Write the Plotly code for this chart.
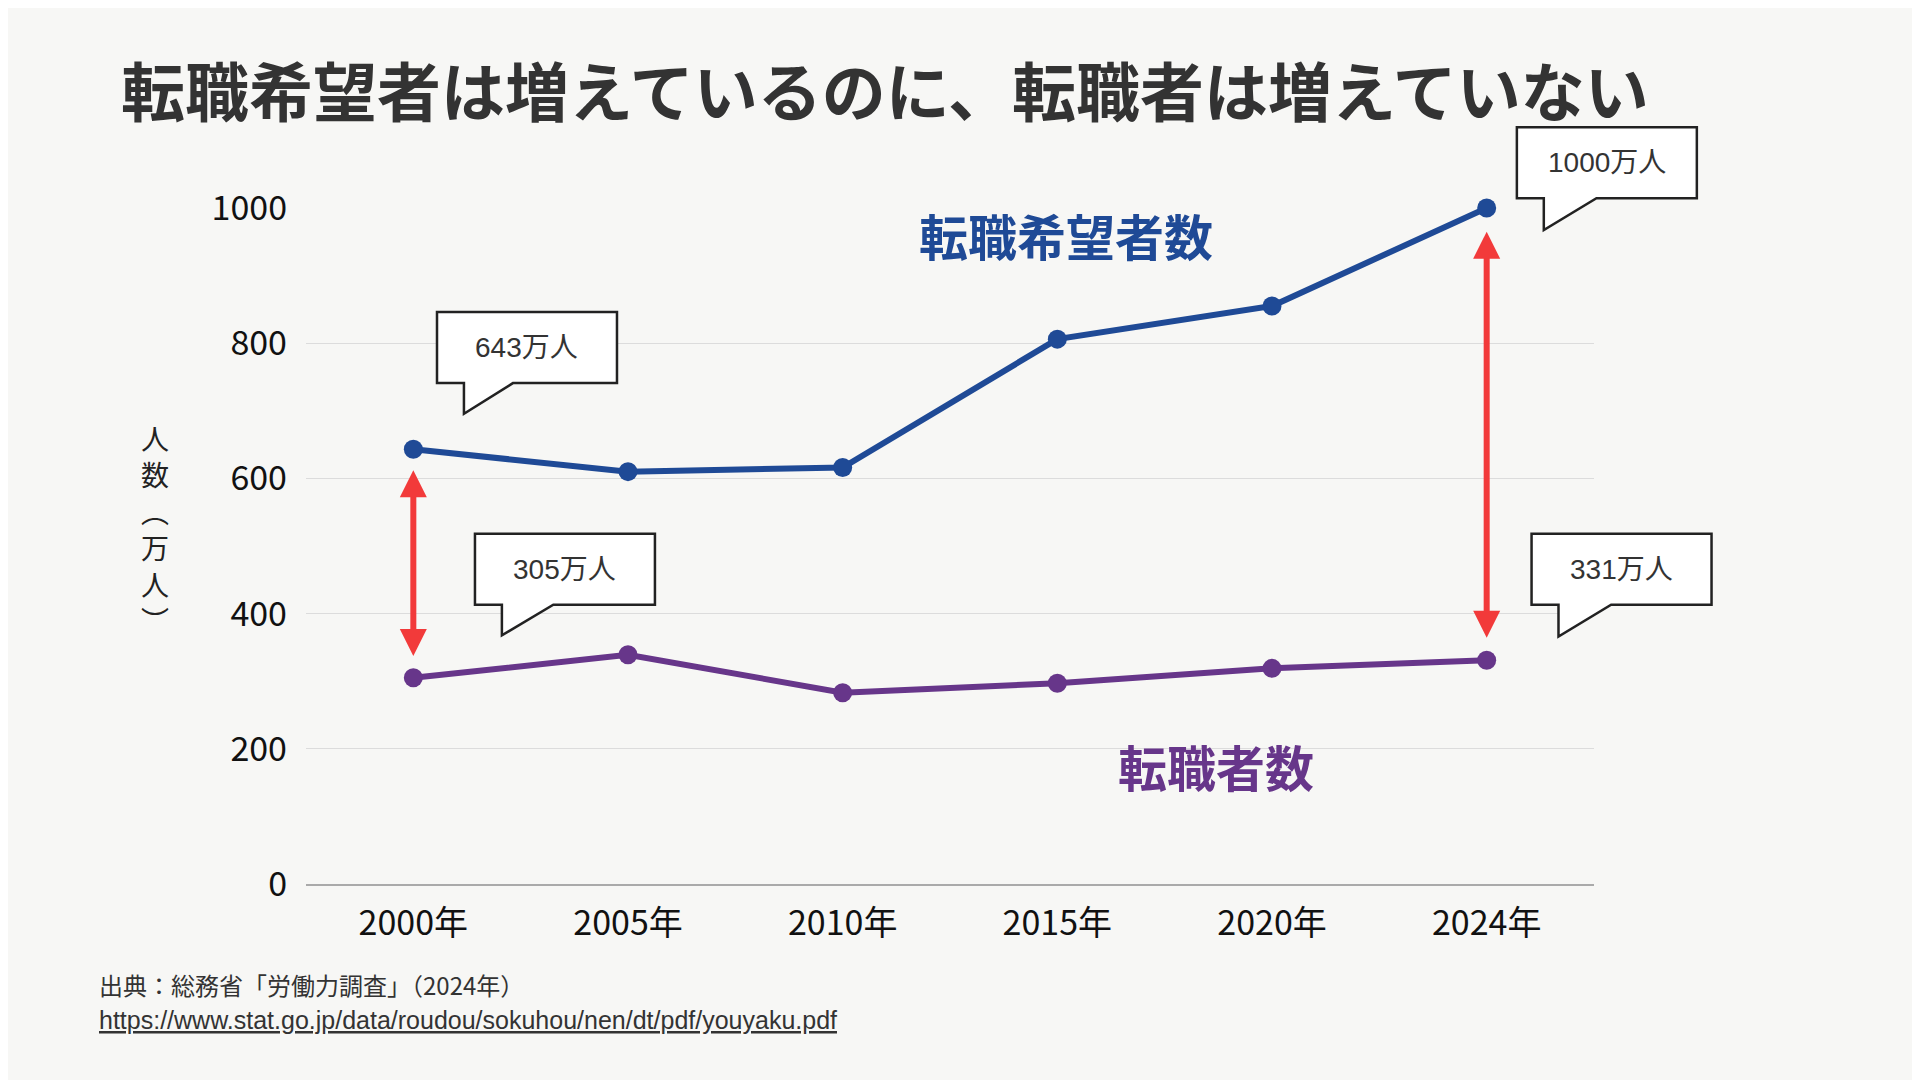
import plotly.graph_objects as go

years = ["2000年", "2005年", "2010年", "2015年", "2020年", "2024年"]
kibou = [643, 610, 616, 806, 855, 1000]
tenshoku = [305, 339, 283, 297, 319, 331]

BLUE = "#1f4a96"
PURPLE = "#67368a"
RED = "#f23a3a"
BG = "#f7f7f5"
FONT = "Noto Sans CJK JP"

# reference-pixel -> paper helpers (plot area 243..1295 x, 163..715 y in reference)
def px(x):
    return (x - 243) / (1295 - 243)

def py(y):
    return (715 - y) / (715 - 163)

fig = go.Figure()
fig.add_trace(go.Scatter(x=years, y=kibou, mode="lines+markers", cliponaxis=False,
                         line=dict(color=BLUE, width=6), marker=dict(size=19, color=BLUE)))
fig.add_trace(go.Scatter(x=years, y=tenshoku, mode="lines+markers", cliponaxis=False,
                         line=dict(color=PURPLE, width=6), marker=dict(size=19, color=PURPLE)))

shapes = []
annotations = []

def label(x, y, text, font, xanchor="center"):
    annotations.append(dict(x=px(x), y=py(y), xref="paper", yref="paper", text=text,
                            showarrow=False, xanchor=xanchor, yanchor="middle", font=font))

def callout(text, x0, x1, y0, y1, tip_x, tip_y, base_w):
    path = (f"M {px(x0)},{py(y0)} L {px(x1)},{py(y0)} L {px(x1)},{py(y1)} "
            f"L {px(tip_x + base_w)},{py(y1)} L {px(tip_x)},{py(tip_y)} L {px(tip_x)},{py(y1)} "
            f"L {px(x0)},{py(y1)} Z")
    shapes.append(dict(type="path", xref="paper", yref="paper", path=path,
                       fillcolor="white", line=dict(color="#222", width=2.5)))
    label((x0 + x1) / 2, (y0 + y1) / 2, text,
          dict(family="Liberation Sans, " + FONT, size=28, color="#333"))

callout(f"{kibou[0]}万人", 350, 497, 248, 306, 372, 331, 40)
callout(f"{tenshoku[0]}万人", 381, 528, 429, 487, 403, 512, 42)
callout(f"{kibou[-1]}万人", 1232, 1379, 97, 155, 1254, 181, 43)
callout(f"{tenshoku[-1]}万人", 1244, 1391, 429, 487, 1266, 513, 43)

# double-headed red arrows
for xi, top, bot in [(years[0], 612, 335), (years[-1], 965, 362)]:
    annotations.append(dict(x=xi, y=top, ax=xi, ay=bot, xref="x", yref="y", axref="x", ayref="y",
                            text="", showarrow=True, arrowhead=2, startarrowhead=2, arrowside="end+start",
                            arrowsize=0.9, startarrowsize=0.9, arrowwidth=6, arrowcolor=RED))

label(864, 185, "<b>転職希望者数</b>", dict(family=FONT, size=49, color=BLUE))
label(986, 618, "<b>転職者数</b>", dict(family=FONT, size=49, color=PURPLE))
label(120, 425, "人<br>数<br>︵<br>万<br>人<br>︶", dict(family=FONT, size=28, color="#222"))
label(72, 797, "出典：総務省「労働力調査」（2024年）", dict(family=FONT, size=24, color="#333"), "left")
label(72, 826, "<u>https://www.stat.go.jp/data/roudou/sokuhou/nen/dt/pdf/youyaku.pdf</u>",
      dict(family="Liberation Sans", size=25, color="#333"), "left")
label(90, 65, "<b>転職希望者は増えているのに、転職者は増えていない</b>",
      dict(family=FONT, size=64, color="#333"), "left")

fig.update_layout(
    width=1920, height=1080, showlegend=False,
    paper_bgcolor=BG, plot_bgcolor=BG,
    margin=dict(l=298, r=334, t=200, b=204),
    font=dict(family=FONT, color="#111"),
    shapes=shapes, annotations=annotations,
    xaxis=dict(type="category", range=[-0.5, 5.5], showgrid=False, showline=True,
               linecolor="#aaa", linewidth=1.5, ticks="", tickfont=dict(size=34), ticklabelstandoff=8),
    yaxis=dict(range=[0, 1000], tickvals=[0, 200, 400, 600, 800, 1000], showgrid=True,
               gridcolor="#dcdcdc", gridwidth=1.2, zeroline=False, tickfont=dict(size=34),
               ticklabelstandoff=18),
)

fig.write_html("out.html")
